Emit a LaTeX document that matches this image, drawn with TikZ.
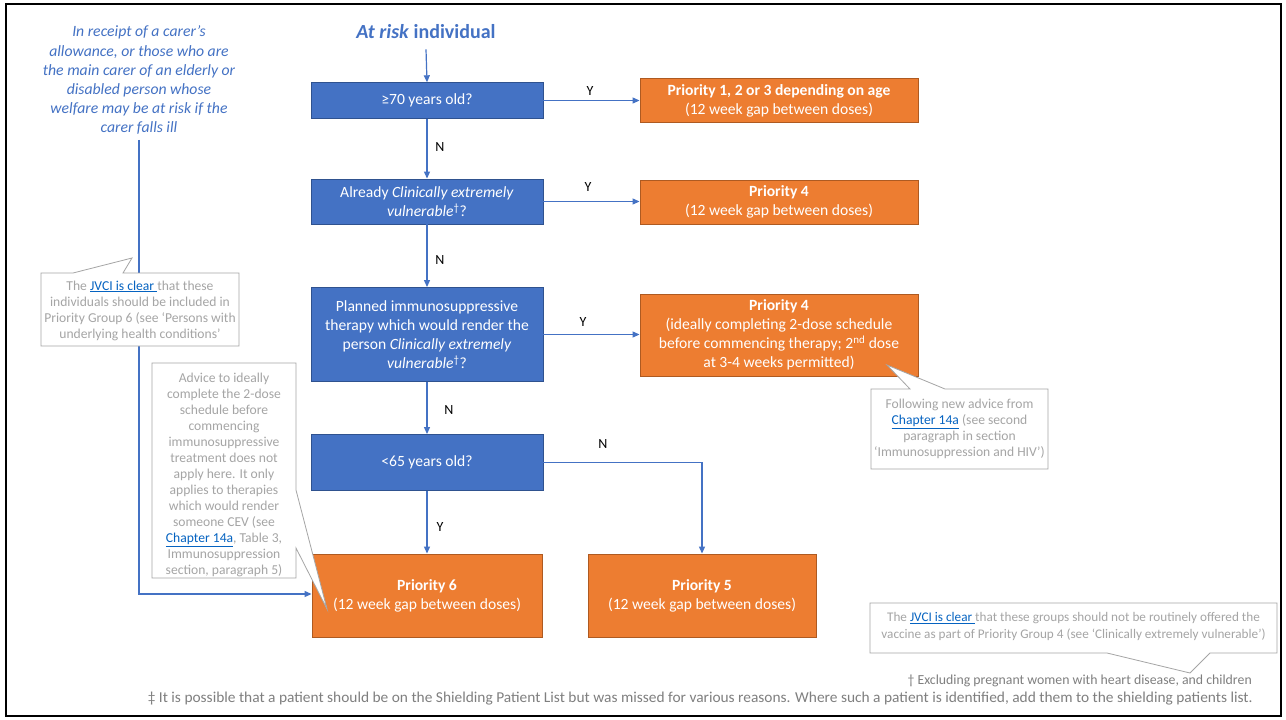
\documentclass[tikz,border=0pt]{standalone}
\usepackage{fontspec}
\usepackage{graphicx}
\setmainfont{Carlito}
\usetikzlibrary{arrows.meta}
\definecolor{cblue}{HTML}{4472C4}
\definecolor{cbluedk}{HTML}{2F528F}
\definecolor{corange}{HTML}{ED7D31}
\definecolor{corangedk}{HTML}{AE5A21}
\definecolor{cgray}{HTML}{A5A5A5}
\definecolor{cfoot}{HTML}{7F7F7F}
\definecolor{clink}{HTML}{0563C1}
\newcommand\fsz[2]{\fontsize{#1}{#2}\selectfont}
\newcommand\lnk[1]{\textcolor{clink}{\underline{#1}}}
\begin{document}
\begin{tikzpicture}[x=1pt,y=-1pt,
  qbox/.style={draw=cbluedk, line width=0.9pt, fill=cblue, text=white, align=center,
    font=\fsz{15.6}{19}, inner sep=0pt, minimum width=232pt},
  pbox/.style={draw=corangedk, line width=0.9pt, fill=corange, text=white, align=center,
    font=\fsz{15.6}{19}, inner sep=0pt},
  conn/.style={draw=cblue, line width=1.2pt, -{Triangle[length=7pt,width=6pt]}},
  lbl/.style={font=\fsz{14}{16}, text=black, inner sep=0pt},
  notetext/.style={text=cgray, align=center, font=\fsz{13.6}{16}, inner sep=0pt},
  calloutshape/.style={draw=cgray, fill=white, line width=0.8pt},
  foot/.style={text=cfoot, font=\fsz{13.8}{16}, inner sep=0pt, anchor=east}]
\useasboundingbox (0,0) rectangle (1286,720);
\fill[white] (0,0) rectangle (1286,720);

% title and left text
\node[text=cblue, font=\fsz{20}{24}\bfseries, inner sep=0pt] (title) at (426,32) {\textit{At risk} individual};
\node[text=cblue, font=\fsz{15.7}{19.2}\itshape, align=center, inner sep=0pt] (carer) at (139,80.3)
  {In receipt of a carer’s\\allowance, or those who are\\the main carer of an elderly or\\disabled person whose\\welfare may be at risk if the\\carer falls ill};

% question boxes
\node[qbox, minimum height=35.5pt] (q1) at (427,100.5) {≥70 years old?};
\node[qbox, minimum height=45pt] (q2) at (427,201.5) {Already \textit{Clinically extremely}\\\textit{vulnerable}\textsuperscript{†}?};
\node[qbox, minimum height=94pt] (q3) at (427,334.5) {Planned immunosuppressive\\therapy which would render the\\person \textit{Clinically extremely}\\\textit{vulnerable}\textsuperscript{†}?};
\node[qbox, minimum height=56pt] (q4) at (427,462.5) {<65 years old?};

% priority boxes
\node[pbox, minimum width=278pt, minimum height=44pt] (p1) at (779,100.5) {\textbf{Priority 1, 2 or 3 depending on age}\\(12 week gap between doses)};
\node[pbox, minimum width=278pt, minimum height=44pt] (p2) at (779,202) {\textbf{Priority 4}\\(12 week gap between doses)};
\node[pbox, minimum width=278pt, minimum height=82pt] (p3) at (779,335) {\textbf{Priority 4}\\(ideally completing 2-dose schedule\\before commencing therapy; 2\textsuperscript{nd} dose\\at 3-4 weeks permitted)};
\node[pbox, minimum width=230pt, minimum height=83pt] (p6) at (427,595.5) {\textbf{Priority 6}\\(12 week gap between doses)};
\node[pbox, minimum width=228pt, minimum height=83pt] (p5) at (702,595.5) {\textbf{Priority 5}\\(12 week gap between doses)};

% connectors
\draw[conn] ([yshift=-10pt]title.south) -- (q1.north);
\draw[conn] (q1.east) -- (p1.west);
\draw[conn] (q1.south) -- (q2.north);
\draw[conn] (q2.east) -- (q2.east -| p2.west);
\draw[conn] (q2.south) -- (q3.north);
\draw[conn] (q3.east) -- (q3.east -| p3.west);
\draw[conn] (q3.south) -- (q4.north);
\draw[conn] (q4.east) -| (p5.north);
\draw[conn] (q4.south) -- (p6.north);
\draw[conn] ([yshift=-5pt]carer.south) |- ([yshift=1.5pt]p6.west);

% labels
\node[lbl] (y1) at (590,91) {Y};
\node[lbl] (n1) at (440,147) {N};
\node[lbl] (y2) at (588,187) {Y};
\node[lbl] (n2) at (440,260) {N};
\node[lbl] (y3) at (583,322) {Y};
\node[lbl] (n3) at (449,410) {N};
\node[lbl] (n4) at (603,444) {N};
\node[lbl] (y4) at (440,527) {Y};

% callouts
\draw[calloutshape] (41,273) -- (73,273) -- (132,258) -- (123,273) -- (239,273) -- (239,346) -- (41,346) -- cycle;
\node[notetext] (c1) at (140,310.5) {The \lnk{JVCI is clear\ }that these\\individuals should be included in\\Priority Group 6 (see ‘Persons with\\underlying health conditions’};

\draw[calloutshape] (152,363) -- (296,363) -- (296,490) -- (327,609) -- (296,548) -- (296,578) -- (152,578) -- cycle;
\node[notetext] (c2) at (224,475) {Advice to ideally\\complete the 2-dose\\schedule before\\commencing\\immunosuppressive\\treatment does not\\apply here. It only\\applies to therapies\\which would render\\someone CEV (see\\\lnk{Chapter 14a}, Table 3,\\Immunosuppression\\section, paragraph 5)};

\draw[calloutshape] (871,389) -- (910,389) -- (887,365) -- (945,389) -- (1048,389) -- (1048,469) -- (871,469) -- cycle;
\node[notetext] (c3) at (959.5,429) {Following new advice from\\\lnk{Chapter 14a} (see second\\paragraph in section\\‘Immunosuppression and HIV’)};

\draw[calloutshape] (870,603) -- (1277,603) -- (1277,653) -- (1210,653) -- (1190,673) -- (1107,653) -- (870,653) -- cycle;
\node[notetext, font=\fsz{13.2}{17}] (c4) at (1073.5,626.5) {The \lnk{JVCI is clear\ }that these groups should not be routinely offered the\\vaccine as part of Priority Group 4 (see ‘Clinically extremely vulnerable’)};

% footnotes
\node[foot] (f1) at (1252,681) {† Excluding pregnant women with heart disease, and children};
\node[foot] (f2) at (1253,699) {\resizebox{1105pt}{10.5pt}{‡ It is possible that a patient should be on the Shielding Patient List but was missed for various reasons. Where such a patient is identified, add them to the shielding patients list.}};

% frame
\draw[line width=2.7pt] (6,4) rectangle (1281,716);
\end{tikzpicture}
\end{document}
